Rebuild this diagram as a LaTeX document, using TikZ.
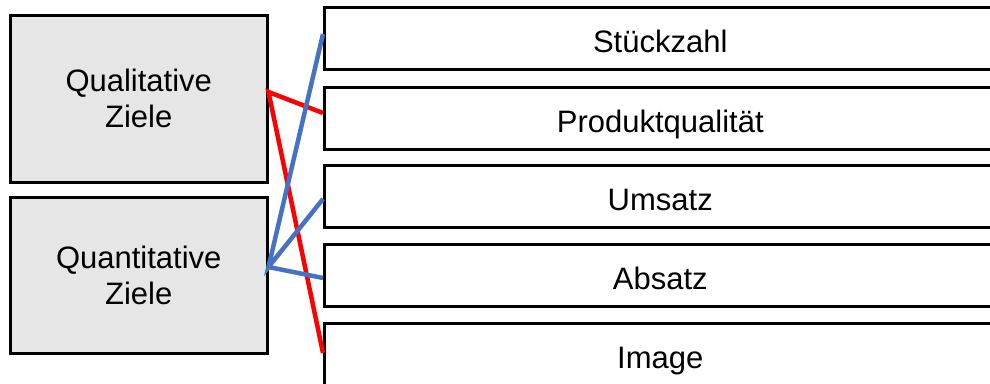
\documentclass[tikz,border=0pt]{standalone}
\usepackage{fontspec}
\setmainfont{Liberation Sans}
\definecolor{boxgray}{HTML}{E6E6E6}
\definecolor{linkblue}{HTML}{4472C4}
\definecolor{linkred}{HTML}{FF0000}
\begin{document}
\begin{tikzpicture}[x=1pt,y=-1pt,
  goalbox/.style={draw=black,line width=3pt,fill=boxgray,align=center,
    inner sep=0pt,font=\fontsize{31}{36}\selectfont},
  itembox/.style={draw=black,line width=3pt,fill=white,inner sep=0pt,
    minimum width=671.5pt,minimum height=62pt,text height=31pt,text depth=3pt,
    font=\fontsize{31}{36}\selectfont},
  redlink/.style={draw=linkred,line width=4.5pt},
  bluelink/.style={draw=linkblue,line width=4.5pt}]
\useasboundingbox (0,0) rectangle (990,383);
\clip (0,0) rectangle (990,383);

% goal categories
\node[goalbox,minimum width=256.5pt,minimum height=167pt] (qual) at (138.75,98.5) {Qualitative\\Ziele};
\node[goalbox,minimum width=256.5pt,minimum height=156pt] (quant) at (138.75,275) {Quantitative\\Ziele};

% individual goals
\node[itembox] (stk) at (660.25,38) {Stückzahl};
\node[itembox] (pq)  at (660.25,118) {Produktqualität};
\node[itembox] (ums) at (660.25,196) {Umsatz};
\node[itembox] (abs) at (660.25,275) {Absatz};
\node[itembox] (img) at (660.25,354) {Image};

% assignments
\draw[redlink] ([yshift=5pt]pq.west) -- ([yshift=6.5pt]qual.east) -- ([yshift=1pt]img.west);
\draw[bluelink] ([yshift=4pt]stk.west) -- ([yshift=8pt]quant.east) -- ([yshift=-3pt]ums.west);
\draw[bluelink] ([yshift=8pt]quant.east) -- ([yshift=-3pt]abs.west);
\end{tikzpicture}
\end{document}
